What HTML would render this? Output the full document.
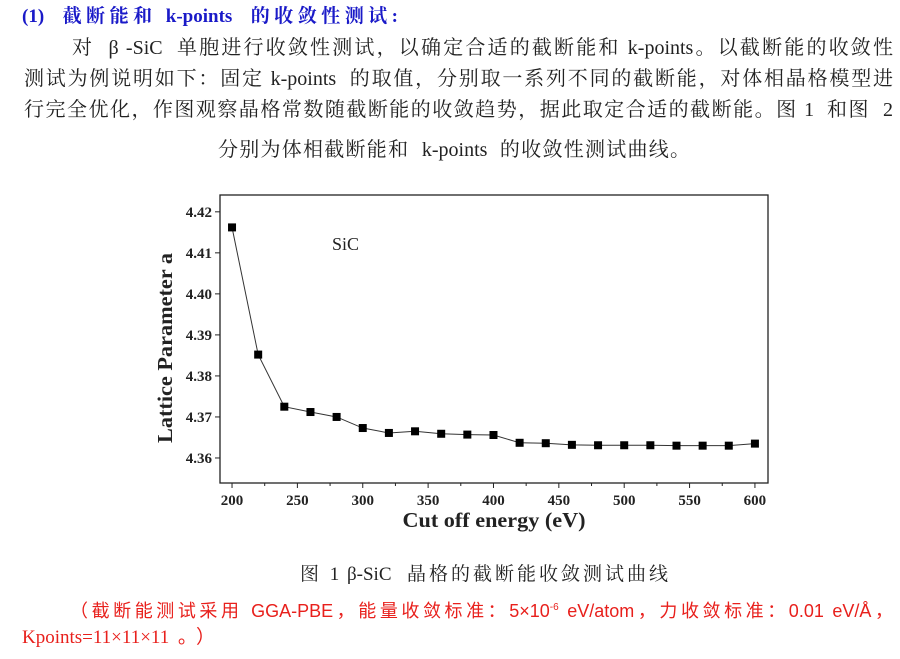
<!DOCTYPE html>
<html><head><meta charset="utf-8"><style>
body{margin:0;width:900px;height:659px;background:#fff;overflow:hidden;position:relative;font-family:"Liberation Serif","Noto Serif CJK SC",serif;color:#222}
.l{position:absolute;white-space:nowrap;font-size:20px;line-height:22px;text-align:justify;text-align-last:justify}
.red{color:#e8201c;font-family:"Liberation Sans","Noto Sans CJK SC",sans-serif;font-size:18px}
</style></head><body>
<div class="l" style="left:22px;top:6px;width:376px;color:#1a1ac8;font-weight:bold;font-size:19px">(1)&nbsp; 截断能和 k-points&nbsp; 的收敛性测试:</div>
<div class="l" style="left:72px;top:37px;width:821px">对&nbsp; β -SiC&nbsp; 单胞进行收敛性测试，以确定合适的截断能和 k-points。以截断能的收敛性</div>
<div class="l" style="left:24px;top:68px;width:869px">测试为例说明如下：固定 k-points&nbsp; 的取值，分别取一系列不同的截断能，对体相晶格模型进</div>
<div class="l" style="left:24px;top:99px;width:869px">行完全优化，作图观察晶格常数随截断能的收敛趋势，据此取定合适的截断能。图 1&nbsp; 和图&nbsp; 2</div>
<div class="l" style="left:218px;top:139px;width:472px">分别为体相截断能和&nbsp; k-points&nbsp; 的收敛性测试曲线。</div>

<svg id="chart" style="position:absolute;left:0;top:0" width="900" height="560"></svg>

<div class="l" style="left:300px;top:564px;width:368px;font-size:19px">图 1 β-SiC&nbsp; 晶格的截断能收敛测试曲线</div>
<div class="l red" style="left:70px;top:597px;width:823px">（截断能测试采用 GGA-PBE，能量收敛标准：5×10<sup style="font-size:10px">-6</sup> eV/atom，力收敛标准：0.01 eV/Å，</div>
<div class="l red" style="left:22px;top:627px;width:193px;font-family:'Liberation Serif','Noto Sans CJK SC',serif;font-size:19px">Kpoints=11×11×11。）</div>

<script>
const categories=[200,220,240,260,280,300,320,340,360,380,400,420,440,460,480,500,520,540,560,580,600];
const values=[4.4162,4.3852,4.3725,4.3712,4.3700,4.3673,4.3661,4.3665,4.3659,4.3657,4.3656,4.3637,4.3636,4.3632,4.3631,4.3631,4.3631,4.3630,4.3630,4.3630,4.3635];
const xTicks=[200,250,300,350,400,450,500,550,600];
const yTicks=[4.36,4.37,4.38,4.39,4.40,4.41,4.42];
const NS="http://www.w3.org/2000/svg";
const svg=document.getElementById('chart');
const L=220,R=768,T=195,B=483;
const xMin=190.8,xMax=610,yMin=4.3539,yMax=4.4241;
const xs=v=>L+(v-xMin)/(xMax-xMin)*(R-L);
const ys=v=>B-(v-yMin)/(yMax-yMin)*(B-T);
function mk(t,a){const e=document.createElementNS(NS,t);for(const k in a)e.setAttribute(k,a[k]);svg.appendChild(e);return e;}
const frame=mk('rect',{x:L,y:T,width:R-L,height:B-T,fill:'none',stroke:'#222','stroke-width':1.3});


xTicks.forEach((v,i)=>{
  const tk=mk('line',{x1:xs(v),x2:xs(v),y1:B,y2:B+5,stroke:'#222'});
  
  
  if(i<xTicks.length-1){const m=mk('line',{x1:xs(v+25),x2:xs(v+25),y1:B,y2:B+3,stroke:'#222'});
  
  }
  const t=mk('text',{x:xs(v),y:B+22,'text-anchor':'middle','font-size':15,'font-weight':'bold','font-family':'Liberation Serif, serif',fill:'#222'});
  t.textContent=v;
  
  
});
yTicks.forEach(v=>{
  const tk=mk('line',{x1:L-5,x2:L,y1:ys(v),y2:ys(v),stroke:'#222'});
  
  
  const t=mk('text',{x:L-8,y:ys(v)+5,'text-anchor':'end','font-size':15,'font-weight':'bold','font-family':'Liberation Serif, serif',fill:'#222'});
  t.textContent=v.toFixed(2);
  
  
});
const pts=categories.map((c,i)=>xs(c)+','+ys(values[i])).join(' ');
const line=mk('polyline',{points:pts,fill:'none',stroke:'#333','stroke-width':1});


categories.forEach((c,i)=>{
  const r=mk('rect',{x:xs(c)-4,y:ys(values[i])-4,width:8,height:8,fill:'#000'});
  
  
});
const lab=mk('text',{x:332,y:250,'font-size':18,'font-family':'Liberation Serif, serif',fill:'#222'});
lab.textContent='SiC';


const xt=mk('text',{x:494,y:527,'text-anchor':'middle','font-size':21,'font-weight':'bold','font-family':'Liberation Serif, serif',fill:'#222',textLength:183,lengthAdjust:'spacingAndGlyphs'});
xt.textContent='Cut off energy  (eV)';


const yt=mk('text',{x:0,y:0,'text-anchor':'middle','font-size':21,'font-weight':'bold','font-family':'Liberation Serif, serif',fill:'#222',transform:'translate(172,348) rotate(-90)',textLength:190,lengthAdjust:'spacingAndGlyphs'});
yt.textContent='Lattice Parameter  a';


</script>
</body></html>
